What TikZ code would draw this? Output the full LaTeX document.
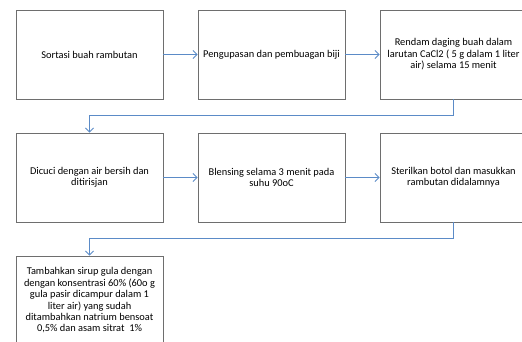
\documentclass[tikz,border=0pt]{standalone}
\usepackage{fontspec}
\setmainfont{Carlito}
\usetikzlibrary{shadows,arrows.meta}
\definecolor{linkblue}{HTML}{5B8BC7}
\definecolor{boxgray}{HTML}{6E6E6E}

\begin{document}
\begin{tikzpicture}[x=1pt, y=-1pt]
	\tikzstyle{every node}=[align=center, inner sep=1pt, font=\fontsize{10.4}{11.4}\selectfont]
	\tikzstyle{stepbox}=[draw=boxgray, line width=0.8pt, fill=white, minimum width=147pt, minimum height=89pt,
		drop shadow={shadow xshift=1pt, shadow yshift=-1.2pt, opacity=0.35}]
	\tikzstyle{link}=[draw=linkblue, line width=0.9pt, -{Straight Barb[length=4pt, width=8pt]}]
	\useasboundingbox (0,0) rectangle (522,342);
	\clip (0,0) rectangle (522,342);

		\node[stepbox] (sortasi) at (89.5, 54.5) {Sortasi buah rambutan};
		\node[stepbox] (kupas) at (271.5, 54.5) {Pengupasan dan pembuagan biji};
		\node[stepbox] (rendam) at (453.5, 54.5) {Rendam daging buah dalam \\ larutan CaCl2 ( 5 g dalam 1 liter \\ air) selama 15 menit};

		\node[stepbox] (cuci) at (89.5, 177.5) {Dicuci dengan air bersih dan \\ ditirisjan};
		\node[stepbox] (blensing) at (271.5, 177.5) {Blensing selama 3 menit pada \\ suhu 90oC};
		\node[stepbox] (steril) at (453.5, 177.5) {Sterilkan botol dan masukkan \\ rambutan didalamnya};

		\node[stepbox] (sirup) at (89.5, 300.5) {Tambahkan sirup gula dengan \\ dengan konsentrasi 60\% (60o g \\ gula pasir dicampur dalam 1 \\ liter air) yang sudah \\ ditambahkan natrium bensoat \\ 0,5\% dan asam sitrat\ \ 1\%};

		\draw[link] (sortasi) -- (kupas);
		\draw[link] (kupas) -- (rendam);
		\draw[link] (rendam.south) -- ++(0,16.5) -| (cuci.north);
		\draw[link] (cuci) -- (blensing);
		\draw[link] (blensing) -- (steril);
		\draw[link] (steril.south) -- ++(0,16.5) -| (sirup.north);
\end{tikzpicture}
\end{document}
